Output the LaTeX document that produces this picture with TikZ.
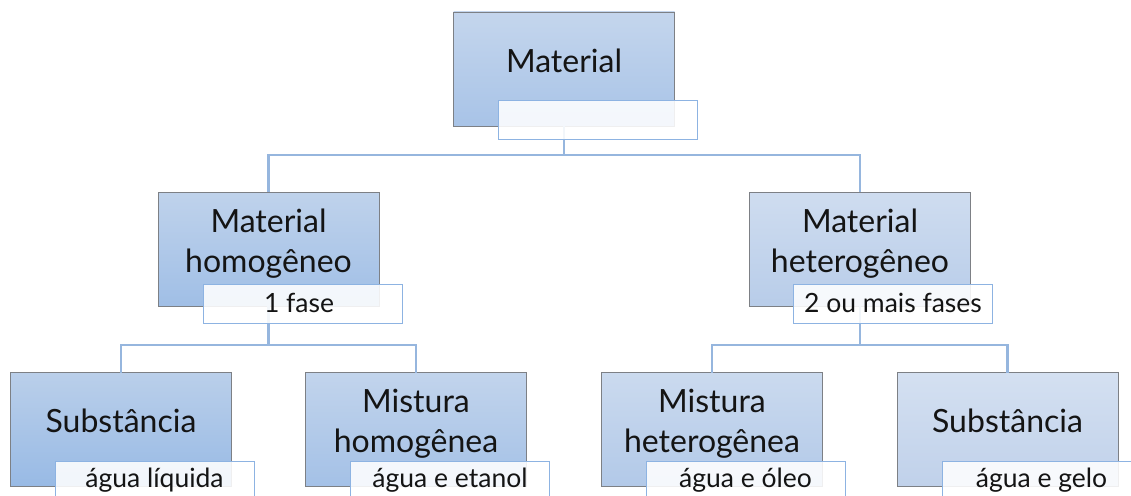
\documentclass[tikz,border=0pt]{standalone}
\usepackage{fontspec}
\setmainfont{Lato}
\definecolor{ltop}{RGB}{186,207,234}
\definecolor{lbot}{RGB}{152,186,229}
\definecolor{rtop}{RGB}{212,224,241}
\definecolor{rbot}{RGB}{192,209,234}
\definecolor{bordergray}{RGB}{125,128,133}
\definecolor{connblue}{RGB}{150,182,222}
\definecolor{lblblue}{RGB}{141,179,226}
\definecolor{txt}{RGB}{20,20,20}
\tikzset{
  mbox/.style={draw=bordergray, line width=0.9pt, top color=ltop!#1!rtop, bottom color=lbot!#1!rbot,
    minimum width=221pt, minimum height=114pt, inner sep=0pt, outer sep=0pt},
  lbox/.style={draw=lblblue, line width=1pt, fill=white, fill opacity=0.88, draw opacity=1,
    minimum width=199pt, minimum height=39pt, inner sep=0pt, outer sep=0pt},
  conn/.style={draw=connblue, line width=2.4pt},
  maintxt/.style={anchor=base, font=\fontsize{32}{38}\selectfont, text=txt, inner sep=0pt},
  lbltxt/.style={anchor=base, font=\fontsize{26.5}{30}\selectfont, text=txt, inner sep=0pt},
}
\begin{document}
\begin{tikzpicture}[x=1pt,y=1pt]
\useasboundingbox (0,0) rectangle (1131,-495);
% boxes
\node[mbox=60] (mat) at (564,-69) {};
\node[mbox=80] (matho) at (268.5,-249) {};
\node[mbox=20] (mathe) at (860,-249) {};
\node[mbox=100] (subl) at (121,-429.5) {};
\node[mbox=70] (misho) at (416,-429.5) {};
\node[mbox=35] (mishe) at (712,-429.5) {};
\node[mbox=0] (subr) at (1007.5,-429.5) {};
% connectors
\coordinate (busa) at (564,-155);
\coordinate (busb) at (268.5,-345);
\coordinate (busc) at (860,-345);
\draw[conn] (mat.south) -- (busa);
\draw[conn] (busa) -| (matho.north);
\draw[conn] (busa) -| (mathe.north);
\draw[conn] (matho.south) -- (busb);
\draw[conn] (busb) -| (subl.north);
\draw[conn] (busb) -| (misho.north);
\draw[conn] (mathe.south) -- (busc);
\draw[conn] (busc) -| (mishe.north);
\draw[conn] (busc) -| (subr.north);
% label boxes
\node[lbox] (matl) at (597.5,-119.5) {};
\node[lbox] (matho-l) at (302.5,-303.5) {};
\node[lbox] (mathe-l) at (893,-303.5) {};
\node[lbox] (subl-l) at (154.5,-480.5) {};
\node[lbox] (misho-l) at (450,-480.5) {};
\node[lbox] (mishe-l) at (745.5,-480.5) {};
\node[lbox] (subr-l) at (1041.5,-480.5) {};
% texts
\node[maintxt] (mat-t) at (564,-72) {Material};
\node[maintxt] (matho-t1) at (268.5,-232) {Material};
\node[maintxt] (matho-t2) at (268.5,-272) {homogêneo};
\node[maintxt] (mathe-t1) at (860,-232) {Material};
\node[maintxt] (mathe-t2) at (860,-272) {heterogêneo};
\node[maintxt] (subl-t) at (121,-432) {Substância};
\node[maintxt] (misho-t1) at (416,-412) {Mistura};
\node[maintxt] (misho-t2) at (416,-452) {homogênea};
\node[maintxt] (mishe-t1) at (712,-412) {Mistura};
\node[maintxt] (mishe-t2) at (712,-452) {heterogênea};
\node[maintxt] (subr-t) at (1007.5,-432) {Substância};
\node[lbltxt] (matho-lt) at (299,-312) {1 fase};
\node[lbltxt] (mathe-lt) at (893,-312) {2 ou mais fases};
\node[lbltxt] (subl-lt) at (154.5,-487) {água líquida};
\node[lbltxt] (misho-lt) at (450,-487) {água e etanol};
\node[lbltxt] (mishe-lt) at (745.5,-487) {água e óleo};
\node[lbltxt] (subr-lt) at (1041.5,-487) {água e gelo};
\end{tikzpicture}
\end{document}
